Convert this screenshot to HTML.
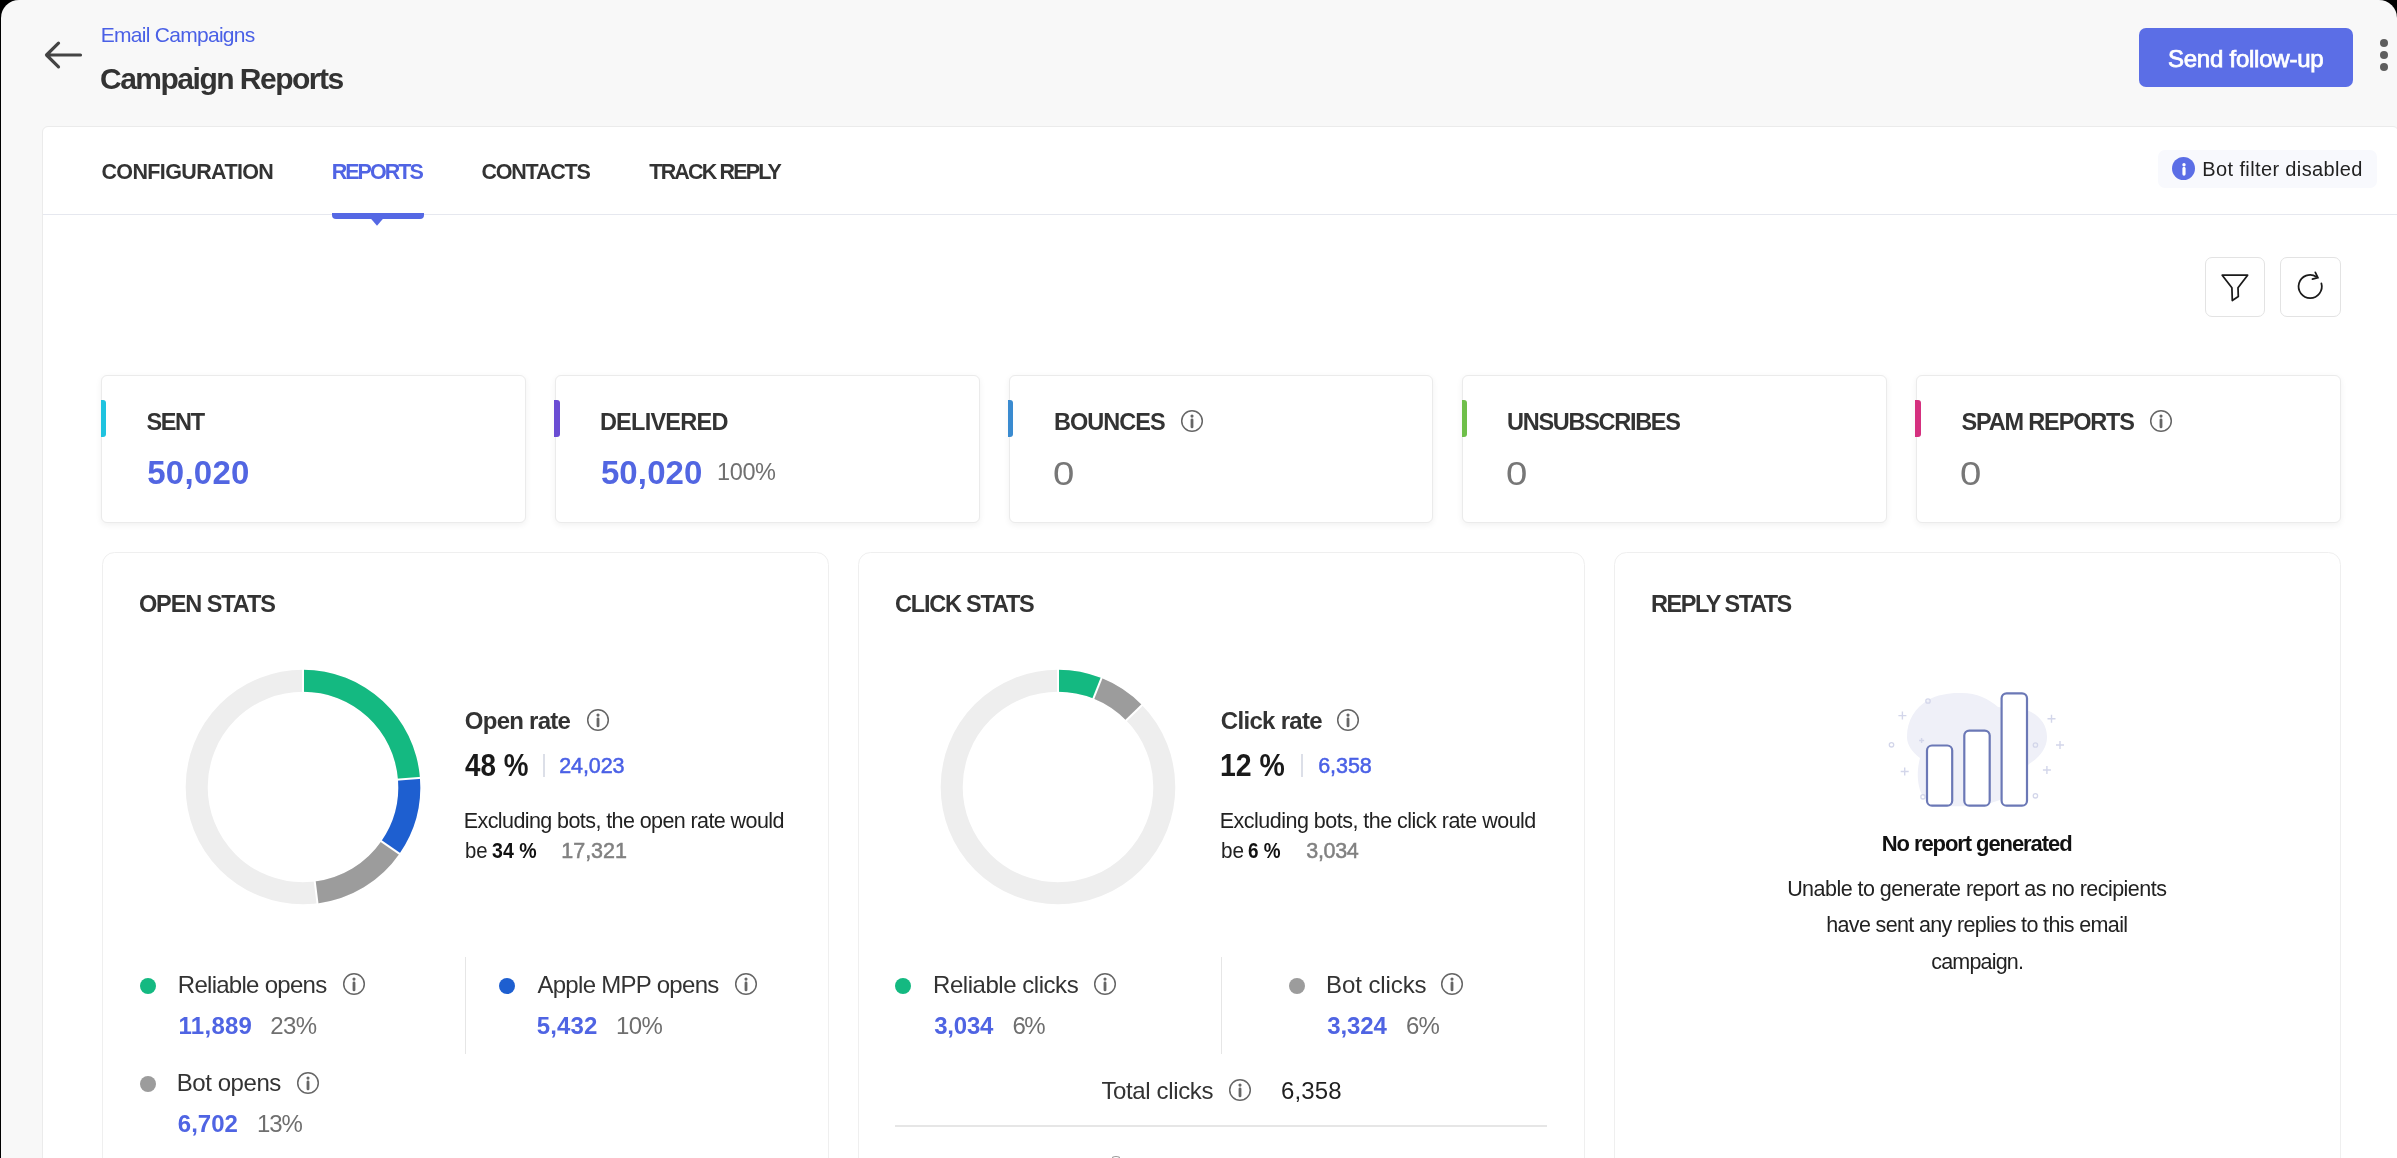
<!DOCTYPE html>
<html><head><meta charset="utf-8">
<style>
html,body{margin:0;padding:0;}
body{width:2397px;height:1158px;overflow:hidden;position:relative;background:#000;font-family:"Liberation Sans",sans-serif;}
.a{position:absolute;}
.t{position:absolute;white-space:nowrap;}
svg.a{overflow:visible;}
</style></head><body>
<div class='a' style='left:1px;top:0px;width:2396px;height:1158px;background:#f8f8f8;border-radius:18px 18px 0 0'></div>
<svg class='a' style='left:40px;top:38px' width='46' height='34' viewBox='40 38 46 34'><path d='M80.5 55 H47 M58.5 43.2 L46.5 55 L58.5 66.8' fill='none' stroke='#444' stroke-width='3.2' stroke-linecap='round' stroke-linejoin='round'/></svg>
<div class='a' style='left:2138.5px;top:28.3px;width:214px;height:59px;background:#5b6ee6;border-radius:7px'></div>
<div class='a' style='left:2379.7000000000003px;top:39.199999999999996px;width:8.2px;height:8.2px;border-radius:50%;background:#5e5e5e'></div>
<div class='a' style='left:2379.7000000000003px;top:51.0px;width:8.2px;height:8.2px;border-radius:50%;background:#5e5e5e'></div>
<div class='a' style='left:2379.7000000000003px;top:62.6px;width:8.2px;height:8.2px;border-radius:50%;background:#5e5e5e'></div>
<div class='a' style='left:42px;top:125.6px;width:2357px;height:1100px;background:#fff;border:1px solid #ebebeb;border-radius:6px;box-sizing:border-box'></div>
<div class='a' style='left:43px;top:214px;width:2354px;height:1px;background:#e6e8ef'></div>
<div class='a' style='left:332px;top:213px;width:92px;height:6px;background:#5568e4;border-radius:0 0 4px 4px'></div>
<svg class='a' style='left:368px;top:217px' width='18' height='11' viewBox='0 0 18 11'><path d='M1.5 0 L16.5 0 L9 8.8 Z' fill='#5568e4'/></svg>
<div class='a' style='left:2157.7px;top:149.5px;width:219.3px;height:38px;background:#f8f9fd;border-radius:7px'></div>
<div class='a' style='left:2171.8999999999996px;top:156.79999999999998px;width:23.6px;height:23.6px;border-radius:50%;background:#5b6ee6'></div>
<svg class='a' style='left:2173.7px;top:158.6px' width='20' height='20' viewBox='0 0 20 20'><circle cx='10' cy='5.7' r='1.7' fill='#fff'/><line x1='10' y1='9.4' x2='10' y2='15.1' stroke='#fff' stroke-width='3.2' stroke-linecap='round'/></svg>
<div class='a' style='left:2204.5px;top:257.3px;width:60.7px;height:59.5px;border:1.5px solid #e3e3e3;border-radius:7px;box-sizing:border-box;background:#fff'></div>
<div class='a' style='left:2280px;top:257.3px;width:60.5px;height:59.5px;border:1.5px solid #e3e3e3;border-radius:7px;box-sizing:border-box;background:#fff'></div>
<svg class='a' style='left:2210px;top:262px' width='50' height='50' viewBox='2210 262 50 50'><path d='M2222.2 275.2 L2247.6 275.2 L2238 287.8 L2238.3 296.6 L2232.3 300.5 L2231.9 287.8 Z' fill='none' stroke='#1a1a1a' stroke-width='1.75' stroke-linejoin='round'/></svg>
<svg class='a' style='left:2285px;top:262px' width='50' height='50' viewBox='2285 262 50 50'><path d='M2321.35 283.30 A11.6 11.6 0 1 1 2316.35 276.66' fill='none' stroke='#1a1a1a' stroke-width='1.75' stroke-linecap='round'/><path d='M2315.3 272.3 L2317.9 277.6 L2312.4 279.1' fill='none' stroke='#1a1a1a' stroke-width='1.75' stroke-linecap='round' stroke-linejoin='miter'/></svg>
<div class='a' style='left:101.4px;top:375.4px;width:424.6px;height:147.7px;background:#fff;border:1px solid #ebebeb;border-radius:6px;box-sizing:border-box;box-shadow:0 2px 6px rgba(0,0,0,0.06)'></div>
<div class='a' style='left:100.80000000000001px;top:399.7px;width:5.3px;height:37px;background:#1fc3df;border-radius:0 3px 3px 0'></div>
<div class='a' style='left:555.0px;top:375.4px;width:424.6px;height:147.7px;background:#fff;border:1px solid #ebebeb;border-radius:6px;box-sizing:border-box;box-shadow:0 2px 6px rgba(0,0,0,0.06)'></div>
<div class='a' style='left:554.4px;top:399.7px;width:5.3px;height:37px;background:#6a4cd3;border-radius:0 3px 3px 0'></div>
<div class='a' style='left:1008.7px;top:375.4px;width:424.6px;height:147.7px;background:#fff;border:1px solid #ebebeb;border-radius:6px;box-sizing:border-box;box-shadow:0 2px 6px rgba(0,0,0,0.06)'></div>
<div class='a' style='left:1008.1px;top:399.7px;width:5.3px;height:37px;background:#3a8bd0;border-radius:0 3px 3px 0'></div>
<div class='a' style='left:1462.3px;top:375.4px;width:424.6px;height:147.7px;background:#fff;border:1px solid #ebebeb;border-radius:6px;box-sizing:border-box;box-shadow:0 2px 6px rgba(0,0,0,0.06)'></div>
<div class='a' style='left:1461.7px;top:399.7px;width:5.3px;height:37px;background:#6fbf4a;border-radius:0 3px 3px 0'></div>
<div class='a' style='left:1916.0px;top:375.4px;width:424.6px;height:147.7px;background:#fff;border:1px solid #ebebeb;border-radius:6px;box-sizing:border-box;box-shadow:0 2px 6px rgba(0,0,0,0.06)'></div>
<div class='a' style='left:1915.4px;top:399.7px;width:5.3px;height:37px;background:#d5307f;border-radius:0 3px 3px 0'></div>
<svg class='a' style='left:1177.30px;top:406.30px' width='30' height='30' viewBox='0 0 30 30'><circle cx='15' cy='15' r='10.30' fill='none' stroke='#666' stroke-width='1.5'/><circle cx='15' cy='10.10' r='1.55' fill='#666'/><line x1='15' y1='13.80' x2='15' y2='20.90' stroke='#666' stroke-width='2.8' stroke-linecap='round'/></svg>
<svg class='a' style='left:2145.70px;top:406.30px' width='30' height='30' viewBox='0 0 30 30'><circle cx='15' cy='15' r='10.30' fill='none' stroke='#666' stroke-width='1.5'/><circle cx='15' cy='10.10' r='1.55' fill='#666'/><line x1='15' y1='13.80' x2='15' y2='20.90' stroke='#666' stroke-width='2.8' stroke-linecap='round'/></svg>
<div class='a' style='left:101.8px;top:552.3px;width:727px;height:700px;background:#fff;border:1px solid #efefef;border-radius:12.5px;box-sizing:border-box'></div>
<div class='a' style='left:857.5px;top:552.3px;width:727px;height:700px;background:#fff;border:1px solid #efefef;border-radius:12.5px;box-sizing:border-box'></div>
<div class='a' style='left:1614.2px;top:552.3px;width:727px;height:700px;background:#fff;border:1px solid #efefef;border-radius:12.5px;box-sizing:border-box'></div>
<svg class='a' style='left:177.50px;top:661.60px' width='250' height='250' viewBox='0 0 250 250'><circle cx='125.0' cy='125.0' r='106.3' fill='none' stroke='#eeeeee' stroke-width='22.0'/><path d='M125.00 7.70 A117.3 117.3 0 0 1 241.95 116.00 L220.02 117.69 A95.3 95.3 0 0 0 125.00 29.70 Z' fill='#14b981'/><path d='M241.95 116.00 A117.3 117.3 0 0 1 221.44 191.78 L203.35 179.25 A95.3 95.3 0 0 0 220.02 117.69 Z' fill='#1e5fd0'/><path d='M221.44 191.78 A117.3 117.3 0 0 1 139.50 241.40 L136.78 219.57 A95.3 95.3 0 0 0 203.35 179.25 Z' fill='#9c9c9c'/><line x1='125.00' y1='31.70' x2='125.00' y2='5.70' stroke='#fff' stroke-width='2.0'/><line x1='218.03' y1='117.84' x2='243.95' y2='115.85' stroke='#fff' stroke-width='2.0'/><line x1='201.71' y1='178.11' x2='223.08' y2='192.92' stroke='#fff' stroke-width='2.0'/><line x1='136.53' y1='217.58' x2='139.75' y2='243.39' stroke='#fff' stroke-width='2.0'/></svg>
<svg class='a' style='left:933.00px;top:661.60px' width='250' height='250' viewBox='0 0 250 250'><circle cx='125.0' cy='125.0' r='106.3' fill='none' stroke='#eeeeee' stroke-width='22.0'/><path d='M125.00 7.70 A117.3 117.3 0 0 1 168.56 16.09 L160.39 36.52 A95.3 95.3 0 0 0 125.00 29.70 Z' fill='#14b981'/><path d='M168.56 16.09 A117.3 117.3 0 0 1 208.95 43.08 L193.21 58.44 A95.3 95.3 0 0 0 160.39 36.52 Z' fill='#9c9c9c'/><line x1='125.00' y1='31.70' x2='125.00' y2='5.70' stroke='#fff' stroke-width='2.0'/><line x1='159.65' y1='38.37' x2='169.30' y2='14.23' stroke='#fff' stroke-width='2.0'/><line x1='191.77' y1='59.84' x2='210.38' y2='41.68' stroke='#fff' stroke-width='2.0'/></svg>
<svg class='a' style='left:582.50px;top:704.60px' width='30' height='30' viewBox='0 0 30 30'><circle cx='15' cy='15' r='10.30' fill='none' stroke='#666' stroke-width='1.5'/><circle cx='15' cy='10.10' r='1.55' fill='#666'/><line x1='15' y1='13.80' x2='15' y2='20.90' stroke='#666' stroke-width='2.8' stroke-linecap='round'/></svg>
<svg class='a' style='left:1333.20px;top:704.60px' width='30' height='30' viewBox='0 0 30 30'><circle cx='15' cy='15' r='10.30' fill='none' stroke='#666' stroke-width='1.5'/><circle cx='15' cy='10.10' r='1.55' fill='#666'/><line x1='15' y1='13.80' x2='15' y2='20.90' stroke='#666' stroke-width='2.8' stroke-linecap='round'/></svg>
<div class='a' style='left:543.0px;top:753.9px;width:1.5px;height:22.7px;background:#dcdfe8'></div>
<div class='a' style='left:1301.3px;top:753.9px;width:1.5px;height:22.7px;background:#dcdfe8'></div>
<div class='a' style='left:139.75px;top:978.0500000000001px;width:16.3px;height:16.3px;border-radius:50%;background:#14b981'></div>
<div class='a' style='left:499.05px;top:978.0500000000001px;width:16.3px;height:16.3px;border-radius:50%;background:#1e5fd0'></div>
<div class='a' style='left:139.75px;top:1076.05px;width:16.3px;height:16.3px;border-radius:50%;background:#9c9c9c'></div>
<div class='a' style='left:895.15px;top:978.0500000000001px;width:16.3px;height:16.3px;border-radius:50%;background:#14b981'></div>
<div class='a' style='left:1288.85px;top:978.0500000000001px;width:16.3px;height:16.3px;border-radius:50%;background:#9c9c9c'></div>
<svg class='a' style='left:338.80px;top:969.40px' width='30' height='30' viewBox='0 0 30 30'><circle cx='15' cy='15' r='10.30' fill='none' stroke='#666' stroke-width='1.5'/><circle cx='15' cy='10.10' r='1.55' fill='#666'/><line x1='15' y1='13.80' x2='15' y2='20.90' stroke='#666' stroke-width='2.8' stroke-linecap='round'/></svg>
<svg class='a' style='left:730.70px;top:969.40px' width='30' height='30' viewBox='0 0 30 30'><circle cx='15' cy='15' r='10.30' fill='none' stroke='#666' stroke-width='1.5'/><circle cx='15' cy='10.10' r='1.55' fill='#666'/><line x1='15' y1='13.80' x2='15' y2='20.90' stroke='#666' stroke-width='2.8' stroke-linecap='round'/></svg>
<svg class='a' style='left:292.80px;top:1067.60px' width='30' height='30' viewBox='0 0 30 30'><circle cx='15' cy='15' r='10.30' fill='none' stroke='#666' stroke-width='1.5'/><circle cx='15' cy='10.10' r='1.55' fill='#666'/><line x1='15' y1='13.80' x2='15' y2='20.90' stroke='#666' stroke-width='2.8' stroke-linecap='round'/></svg>
<svg class='a' style='left:1089.60px;top:969.40px' width='30' height='30' viewBox='0 0 30 30'><circle cx='15' cy='15' r='10.30' fill='none' stroke='#666' stroke-width='1.5'/><circle cx='15' cy='10.10' r='1.55' fill='#666'/><line x1='15' y1='13.80' x2='15' y2='20.90' stroke='#666' stroke-width='2.8' stroke-linecap='round'/></svg>
<svg class='a' style='left:1436.80px;top:969.40px' width='30' height='30' viewBox='0 0 30 30'><circle cx='15' cy='15' r='10.30' fill='none' stroke='#666' stroke-width='1.5'/><circle cx='15' cy='10.10' r='1.55' fill='#666'/><line x1='15' y1='13.80' x2='15' y2='20.90' stroke='#666' stroke-width='2.8' stroke-linecap='round'/></svg>
<svg class='a' style='left:1225.10px;top:1074.60px' width='30' height='30' viewBox='0 0 30 30'><circle cx='15' cy='15' r='10.30' fill='none' stroke='#666' stroke-width='1.5'/><circle cx='15' cy='10.10' r='1.55' fill='#666'/><line x1='15' y1='13.80' x2='15' y2='20.90' stroke='#666' stroke-width='2.8' stroke-linecap='round'/></svg>
<div class='a' style='left:465.2px;top:956.5px;width:1px;height:97px;background:#e6e6e6'></div>
<div class='a' style='left:1221.1px;top:956.5px;width:1px;height:97px;background:#e6e6e6'></div>
<div class='a' style='left:895.3px;top:1125px;width:651.3px;height:1.5px;background:#e6e6e6'></div>
<div class='a' style='left:1111.5px;top:1156.3px;width:8.5px;height:4px;border-radius:50%;border:1.5px solid #999;box-sizing:border-box'></div>
<svg class='a' style='left:1870px;top:670px' width='210' height='150' viewBox='1870 670 210 150'><path d='M1958 693 C1975 692 1988 698 1998 707 L2029 711 C2040 716 2047 725 2047 737 C2047 748 2040 757 2029 764 L2000 800 C1985 806 1965 807 1947 806 C1932 805 1922 798 1920 790 C1917 780 1917 770 1920 758 C1912 752 1907 745 1907 737 C1907 720 1915 708 1928 700 C1937 695 1948 693 1958 693 Z' fill='#eff0f8'/><rect x='1927.0' y='745.5' width='25.2' height='60.2' rx='5' fill='#fff' stroke='#6b78b6' stroke-width='2.2'/><rect x='1964.3' y='730.6' width='25.4' height='75.1' rx='5' fill='#fff' stroke='#6b78b6' stroke-width='2.2'/><rect x='2001.6' y='693.3' width='25.4' height='112.4' rx='5' fill='#fff' stroke='#6b78b6' stroke-width='2.2'/><path d='M1898.4 715.6 H1906.4 M1902.4 711.6 V719.6' stroke='#d3d6ea' stroke-width='1.4'/><path d='M1900.7 771.5 H1908.7 M1904.7 767.5 V775.5' stroke='#d3d6ea' stroke-width='1.4'/><path d='M2047.5 718.8 H2055.5 M2051.5 714.8 V722.8' stroke='#d3d6ea' stroke-width='1.4'/><path d='M2056 745 H2064 M2060 741 V749' stroke='#d3d6ea' stroke-width='1.4'/><path d='M2042.9 770 H2050.9 M2046.9 766 V774' stroke='#d3d6ea' stroke-width='1.4'/><path d='M1919.1 740.5 H1924.1 M1921.6 738.0 V743.0' stroke='#d3d6ea' stroke-width='1.4'/><circle cx='1928' cy='701' r='2.2' fill='none' stroke='#d3d6ea' stroke-width='1.3'/><circle cx='1891.5' cy='744.8' r='2.2' fill='none' stroke='#d3d6ea' stroke-width='1.3'/><circle cx='2035.4' cy='745' r='2.2' fill='none' stroke='#d3d6ea' stroke-width='1.3'/><circle cx='2035.4' cy='795.8' r='2.2' fill='none' stroke='#d3d6ea' stroke-width='1.3'/><circle cx='1923' cy='796.8' r='2.2' fill='none' stroke='#d3d6ea' stroke-width='1.3'/></svg>
<div style="position:absolute;left:0;top:0;width:2397px;height:1158px;will-change:transform">
<div class='t' style='left:100.68px;top:24.00px;font-size:21px;line-height:21px;font-weight:400;color:#4a60e6;letter-spacing:-0.710px;'>Email Campaigns</div>
<div class='t' style='left:100.01px;top:64.30px;font-size:30px;line-height:30px;font-weight:700;color:#333333;letter-spacing:-1.499px;'>Campaign Reports</div>
<div class='t' style='left:2167.89px;top:46.51px;font-size:24px;line-height:24px;font-weight:400;color:#ffffff;letter-spacing:-0.230px;-webkit-text-stroke:0.75px #fff;'>Send follow-up</div>
<div class='t' style='left:101.40px;top:162.10px;font-size:21.5px;line-height:21.5px;font-weight:700;color:#333333;letter-spacing:-0.622px;'>CONFIGURATION</div>
<div class='t' style='left:331.65px;top:162.10px;font-size:21.5px;line-height:21.5px;font-weight:700;color:#5064e4;letter-spacing:-1.951px;'>REPORTS</div>
<div class='t' style='left:481.40px;top:162.10px;font-size:21.5px;line-height:21.5px;font-weight:700;color:#333333;letter-spacing:-1.193px;'>CONTACTS</div>
<div class='t' style='left:649.35px;top:162.10px;font-size:21.5px;line-height:21.5px;font-weight:700;color:#333333;letter-spacing:-1.834px;'>TRACK REPLY</div>
<div class='t' style='left:2202.36px;top:159.00px;font-size:20px;line-height:20px;font-weight:400;color:#222222;letter-spacing:0.369px;'>Bot filter disabled</div>
<div class='t' style='left:146.38px;top:411.20px;font-size:23.5px;line-height:23.5px;font-weight:700;color:#333333;letter-spacing:-1.312px;'>SENT</div>
<div class='t' style='left:599.92px;top:411.20px;font-size:23.5px;line-height:23.5px;font-weight:700;color:#333333;letter-spacing:-0.756px;'>DELIVERED</div>
<div class='t' style='left:1053.92px;top:411.20px;font-size:23.5px;line-height:23.5px;font-weight:700;color:#333333;letter-spacing:-0.944px;'>BOUNCES</div>
<div class='t' style='left:1507.08px;top:411.20px;font-size:23.5px;line-height:23.5px;font-weight:700;color:#333333;letter-spacing:-1.293px;'>UNSUBSCRIBES</div>
<div class='t' style='left:1961.38px;top:411.20px;font-size:23.5px;line-height:23.5px;font-weight:700;color:#333333;letter-spacing:-1.153px;'>SPAM REPORTS</div>
<div class='t' style='left:147.19px;top:456.20px;font-size:33px;line-height:33px;font-weight:700;color:#5266e2;letter-spacing:0.247px;'>50,020</div>
<div class='t' style='left:600.89px;top:456.20px;font-size:33px;line-height:33px;font-weight:700;color:#5266e2;letter-spacing:0.127px;'>50,020</div>
<div class='t' style='left:717.10px;top:460.90px;font-size:23.5px;line-height:23.5px;font-weight:400;color:#707070;letter-spacing:-0.393px;'>100%</div>
<div class='t' style='left:1053.27px;top:456.60px;font-size:33px;line-height:33px;font-weight:400;color:#777777;letter-spacing:0.000px;transform:scaleX(1.16);transform-origin:0 0;'>0</div>
<div class='t' style='left:1506.27px;top:456.60px;font-size:33px;line-height:33px;font-weight:400;color:#777777;letter-spacing:0.000px;transform:scaleX(1.16);transform-origin:0 0;'>0</div>
<div class='t' style='left:1960.27px;top:456.60px;font-size:33px;line-height:33px;font-weight:400;color:#777777;letter-spacing:0.000px;transform:scaleX(1.16);transform-origin:0 0;'>0</div>
<div class='t' style='left:138.90px;top:592.80px;font-size:23.5px;line-height:23.5px;font-weight:700;color:#333333;letter-spacing:-1.066px;'>OPEN STATS</div>
<div class='t' style='left:895.00px;top:592.80px;font-size:23.5px;line-height:23.5px;font-weight:700;color:#333333;letter-spacing:-1.215px;'>CLICK STATS</div>
<div class='t' style='left:1651.12px;top:592.80px;font-size:23.5px;line-height:23.5px;font-weight:700;color:#333333;letter-spacing:-1.466px;'>REPLY STATS</div>
<div class='t' style='left:464.80px;top:708.70px;font-size:24px;line-height:24px;font-weight:700;color:#333333;letter-spacing:-0.750px;'>Open rate</div>
<div class='t' style='left:1220.80px;top:708.70px;font-size:24px;line-height:24px;font-weight:700;color:#333333;letter-spacing:-0.689px;'>Click rate</div>
<div class='t' style='left:464.97px;top:749.90px;font-size:31px;line-height:31px;font-weight:700;color:#1a1a1a;letter-spacing:0.000px;transform:scaleX(0.8974);transform-origin:0 0;'>48 %</div>
<div class='t' style='left:1219.80px;top:749.90px;font-size:31px;line-height:31px;font-weight:700;color:#1a1a1a;letter-spacing:0.000px;transform:scaleX(0.9176);transform-origin:0 0;'>12 %</div>
<div class='t' style='left:559.25px;top:756.25px;font-size:21.5px;line-height:21.5px;font-weight:400;color:#4a60e6;letter-spacing:-0.100px;-webkit-text-stroke:0.5px #4a60e6;'>24,023</div>
<div class='t' style='left:1318.20px;top:756.25px;font-size:21.5px;line-height:21.5px;font-weight:400;color:#4a60e6;letter-spacing:-0.061px;-webkit-text-stroke:0.5px #4a60e6;'>6,358</div>
<div class='t' style='left:463.80px;top:810.80px;font-size:21.5px;line-height:21.5px;font-weight:400;color:#222222;letter-spacing:-0.588px;'>Excluding bots, the open rate would</div>
<div class='t' style='left:1219.80px;top:810.80px;font-size:21.5px;line-height:21.5px;font-weight:400;color:#222222;letter-spacing:-0.517px;'>Excluding bots, the click rate would</div>
<div class='t' style='left:465.04px;top:841.40px;font-size:21.5px;line-height:21.5px;font-weight:400;color:#222222;letter-spacing:0.000px;transform:scaleX(0.9458);transform-origin:0 0;'>be</div>
<div class='t' style='left:491.60px;top:841.40px;font-size:21.5px;line-height:21.5px;font-weight:700;color:#111;letter-spacing:0.000px;transform:scaleX(0.9095);transform-origin:0 0;'>34 %</div>
<div class='t' style='left:561.29px;top:841.15px;font-size:21.5px;line-height:21.5px;font-weight:400;color:#808080;letter-spacing:-0.028px;-webkit-text-stroke:0.5px #808080;'>17,321</div>
<div class='t' style='left:1220.72px;top:841.40px;font-size:21.5px;line-height:21.5px;font-weight:400;color:#222222;letter-spacing:0.000px;transform:scaleX(0.9645);transform-origin:0 0;'>be</div>
<div class='t' style='left:1247.67px;top:841.40px;font-size:21.5px;line-height:21.5px;font-weight:700;color:#111;letter-spacing:0.000px;transform:scaleX(0.8789);transform-origin:0 0;'>6 %</div>
<div class='t' style='left:1306.25px;top:841.15px;font-size:21.5px;line-height:21.5px;font-weight:400;color:#808080;letter-spacing:-0.306px;-webkit-text-stroke:0.5px #808080;'>3,034</div>
<div class='t' style='left:177.80px;top:972.60px;font-size:24px;line-height:24px;font-weight:400;color:#333333;letter-spacing:-0.723px;'>Reliable opens</div>
<div class='t' style='left:537.43px;top:972.60px;font-size:24px;line-height:24px;font-weight:400;color:#333333;letter-spacing:-0.702px;'>Apple MPP opens</div>
<div class='t' style='left:176.80px;top:1071.20px;font-size:24px;line-height:24px;font-weight:400;color:#333333;letter-spacing:-0.450px;'>Bot opens</div>
<div class='t' style='left:178.57px;top:1014.40px;font-size:24px;line-height:24px;font-weight:700;color:#4f64e3;letter-spacing:0.265px;'>11,889</div>
<div class='t' style='left:270.18px;top:1014.40px;font-size:24px;line-height:24px;font-weight:400;color:#6f6f6f;letter-spacing:-0.588px;'>23%</div>
<div class='t' style='left:536.63px;top:1014.40px;font-size:24px;line-height:24px;font-weight:700;color:#4f64e3;letter-spacing:0.167px;'>5,432</div>
<div class='t' style='left:615.90px;top:1014.40px;font-size:24px;line-height:24px;font-weight:400;color:#6f6f6f;letter-spacing:-0.600px;'>10%</div>
<div class='t' style='left:177.80px;top:1111.80px;font-size:24px;line-height:24px;font-weight:700;color:#4f64e3;letter-spacing:0.000px;'>6,702</div>
<div class='t' style='left:257.00px;top:1111.80px;font-size:24px;line-height:24px;font-weight:400;color:#6f6f6f;letter-spacing:-1.100px;'>13%</div>
<div class='t' style='left:933.00px;top:972.60px;font-size:24px;line-height:24px;font-weight:400;color:#333333;letter-spacing:-0.457px;'>Reliable clicks</div>
<div class='t' style='left:1326.10px;top:972.60px;font-size:24px;line-height:24px;font-weight:400;color:#333333;letter-spacing:-0.102px;'>Bot clicks</div>
<div class='t' style='left:934.26px;top:1014.40px;font-size:24px;line-height:24px;font-weight:700;color:#4f64e3;letter-spacing:-0.230px;'>3,034</div>
<div class='t' style='left:1012.62px;top:1014.40px;font-size:24px;line-height:24px;font-weight:400;color:#6f6f6f;letter-spacing:-1.604px;'>6%</div>
<div class='t' style='left:1327.26px;top:1014.40px;font-size:24px;line-height:24px;font-weight:700;color:#4f64e3;letter-spacing:-0.105px;'>3,324</div>
<div class='t' style='left:1406.12px;top:1014.40px;font-size:24px;line-height:24px;font-weight:400;color:#6f6f6f;letter-spacing:-1.004px;'>6%</div>
<div class='t' style='left:1101.45px;top:1079.10px;font-size:24px;line-height:24px;font-weight:400;color:#333333;letter-spacing:-0.368px;'>Total clicks</div>
<div class='t' style='left:1280.92px;top:1079.10px;font-size:24px;line-height:24px;font-weight:400;color:#1f1f1f;letter-spacing:0.148px;'>6,358</div>
<div class='t' style='left:1881.72px;top:832.60px;font-size:22px;line-height:22px;font-weight:700;color:#111;letter-spacing:-1.078px;'>No report generated</div>
<div class='t' style='left:1787.14px;top:879.00px;font-size:21.5px;line-height:21.5px;font-weight:400;color:#222222;letter-spacing:-0.532px;'>Unable to generate report as no recipients</div>
<div class='t' style='left:1826.21px;top:915.20px;font-size:21.5px;line-height:21.5px;font-weight:400;color:#222222;letter-spacing:-0.648px;'>have sent any replies to this email</div>
<div class='t' style='left:1931.30px;top:951.50px;font-size:21.5px;line-height:21.5px;font-weight:400;color:#222222;letter-spacing:-0.820px;'>campaign.</div>
</div>
</body></html>
